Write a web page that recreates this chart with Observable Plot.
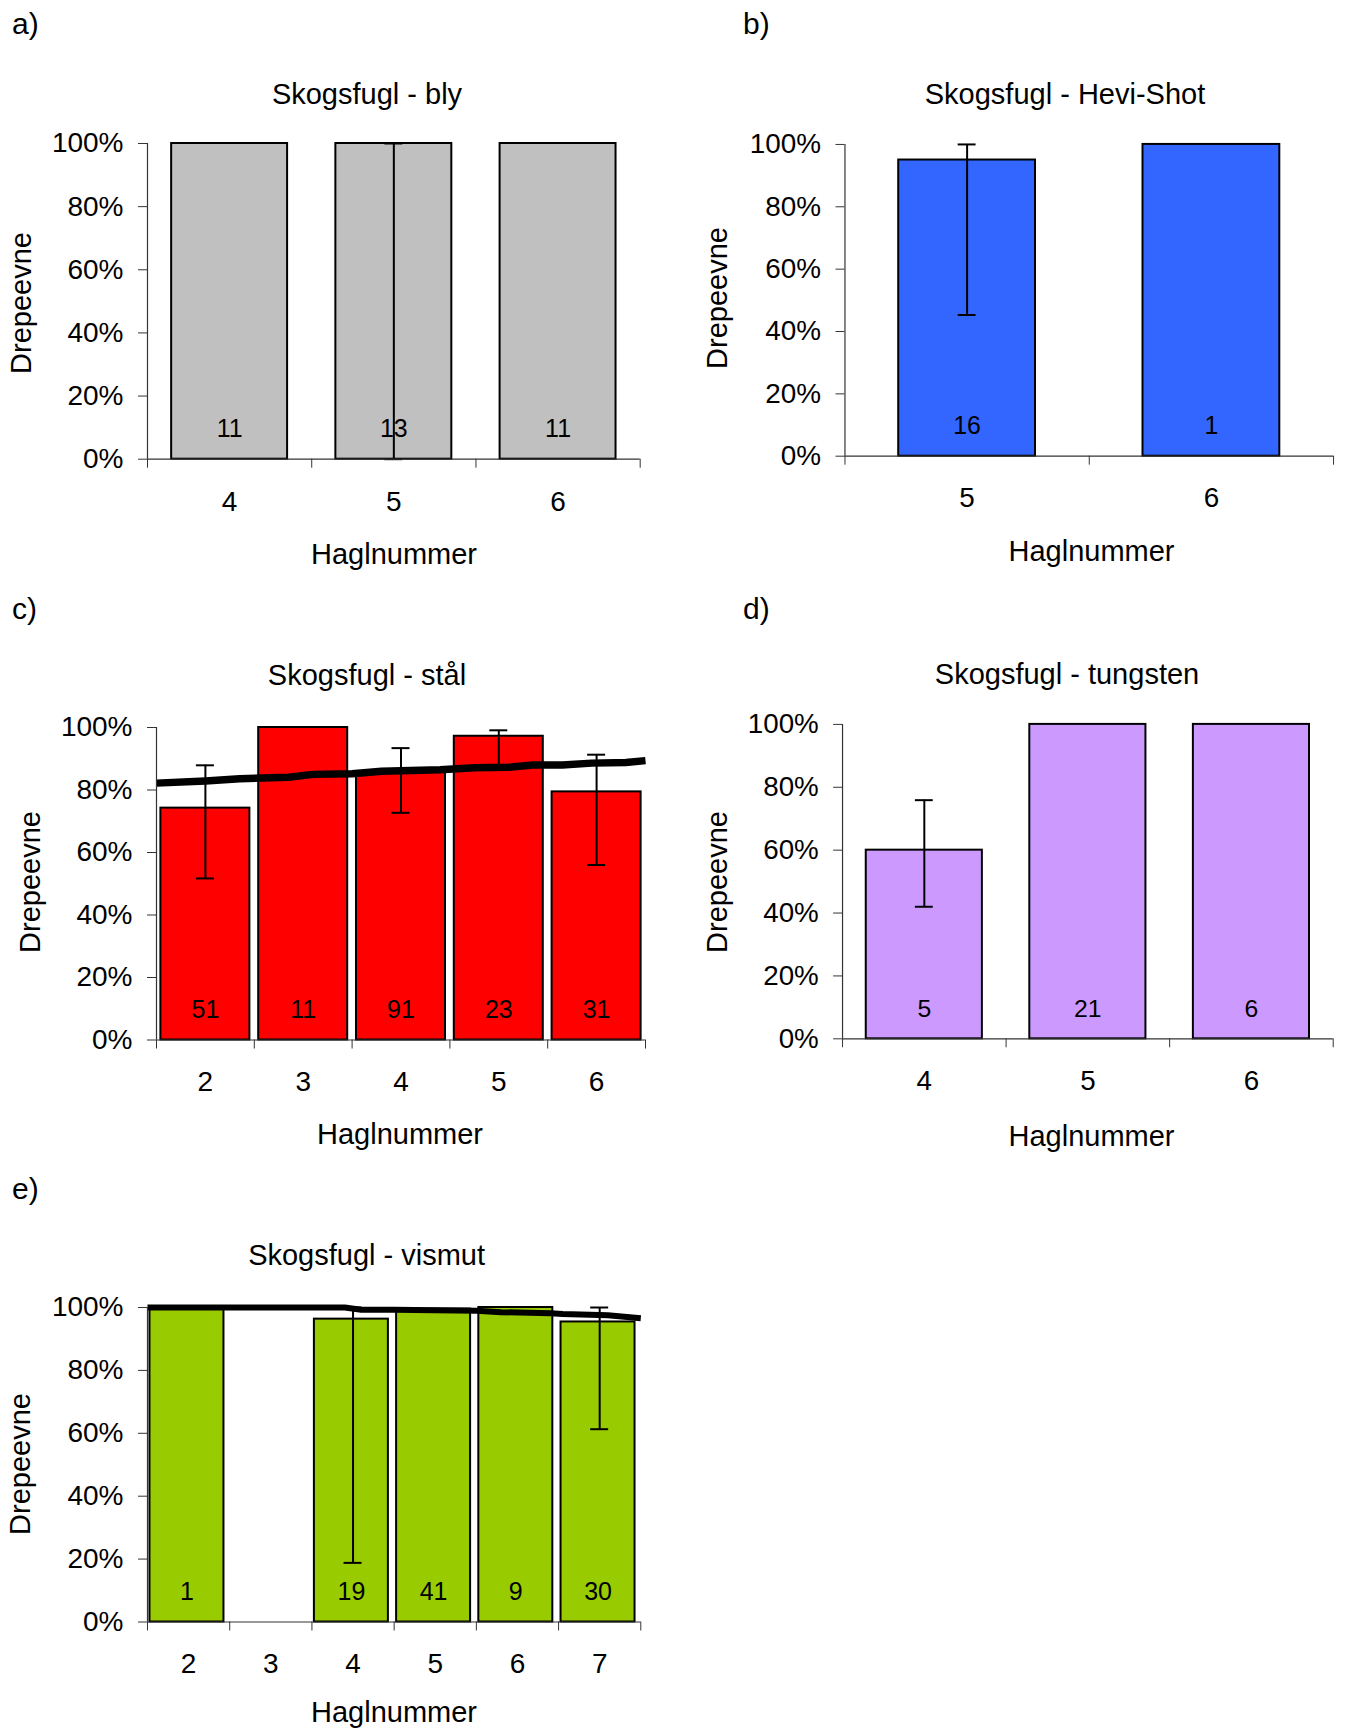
<!DOCTYPE html>
<html>
<head>
<meta charset="utf-8">
<script src="https://cdn.jsdelivr.net/npm/d3@7"></script>
<script src="https://cdn.jsdelivr.net/npm/@observablehq/plot@0.6"></script>
<style>
  html, body { margin: 0; padding: 0; background: #fff; overflow: hidden; }
  #page { position: relative; width: 1345px; height: 1728px; overflow: hidden; background: #fff;
          font-family: "Liberation Sans", Arial, sans-serif; color: #000; }
  .panel { position: absolute; }
  .t { position: absolute; white-space: nowrap; line-height: 1; transform: translate(-50%, -50%); font-size: 29px; }
  .yt { position: absolute; white-space: nowrap; line-height: 1; transform: translate(-50%, -50%) rotate(-90deg); font-size: 29px; }
  .letter { position: absolute; white-space: nowrap; line-height: 1; transform: translateY(-50%); font-size: 30px; }
</style>
</head>
<body>
<div id="page"></div>
<script>
// ---------- DATA ----------
const yTicks = [0, 0.2, 0.4, 0.6, 0.8, 1.0];
const xTitle = "Haglnummer";
const yTitle = "Drepeevne";

// a) Skogsfugl - bly
const aTitle = "Skogsfugl - bly";
const aShot = [4, 5, 6];
const aKill = [1.0, 1.0, 1.0];
const aN = [11, 13, 11];
const aErrLo = [null, 0.0, null];
const aErrHi = [null, 1.0, null];

// b) Skogsfugl - Hevi-Shot
const bTitle = "Skogsfugl - Hevi-Shot";
const bShot = [5, 6];
const bKill = [0.95, 1.0];
const bN = [16, 1];
const bErrLo = [0.453, null];
const bErrHi = [1.0, null];

// c) Skogsfugl - stål
const cTitle = "Skogsfugl - stål";
const cShot = [2, 3, 4, 5, 6];
const cKill = [0.742, 1.0, 0.856, 0.972, 0.794];
const cN = [51, 11, 91, 23, 31];
const cErrLo = [0.517, null, 0.727, 0.871, 0.56];
const cErrHi = [0.879, null, 0.934, 0.991, 0.913];
const cTrendX = [1.5, 2.0, 2.35, 2.85, 3.1, 3.5, 3.8, 4.4, 4.75, 5.1, 5.35, 5.65, 5.95, 6.3, 6.5];
const cTrendY = [0.822, 0.829, 0.836, 0.841, 0.850, 0.852, 0.860, 0.865, 0.871, 0.873, 0.880, 0.880, 0.886, 0.888, 0.894];

// d) Skogsfugl - tungsten
const dTitle = "Skogsfugl - tungsten";
const dShot = [4, 5, 6];
const dKill = [0.60, 1.0, 1.0];
const dN = [5, 21, 6];
const dErrLo = [0.42, null, null];
const dErrHi = [0.759, null, null];

// e) Skogsfugl - vismut
const eTitle = "Skogsfugl - vismut";
const eShot = [2, 3, 4, 5, 6, 7];
const eKill = [1.0, null, 0.963, 0.995, 1.0, 0.954];
const eN = [1, null, 19, 41, 9, 30];
const eErrLo = [null, null, 0.188, null, null, 0.613];
const eErrHi = [null, null, 1.0, null, null, 1.0];
const eTrendX = [1.5, 3.9, 4.1, 4.5, 5.5, 5.8, 6.4, 6.55, 7.1, 7.5];
const eTrendY = [1.0, 1.0, 0.993, 0.993, 0.99, 0.985, 0.982, 0.979, 0.975, 0.966];

// ---------- LAYOUT (pixel geometry, not data) ----------
const panels = [
  { key: "a)", title: aTitle, shot: aShot, kill: aKill, n: aN, lo: aErrLo, hi: aErrHi, color: "#C0C0C0",
    X0: 147.3, X1: 640, Y100: 143.3, Y0: 459, barFrac: 0.706, shift: 0,
    tPos: [367, 93.5], xtPos: [394, 553.5], ytPos: [20.8, 303], lPos: [12, 24.3] },
  { key: "b)", title: bTitle, shot: bShot, kill: bKill, n: bN, lo: bErrLo, hi: bErrHi, color: "#3366FF",
    X0: 845, X1: 1336, Y100: 144, Y0: 457.3, barFrac: 0.56, shift: 0,
    tPos: [1065, 93.5], xtPos: [1091.5, 551], ytPos: [716.8, 298], lPos: [743, 24.3] },
  { key: "c)", title: cTitle, shot: cShot, kill: cKill, n: cN, lo: cErrLo, hi: cErrHi, color: "#FF0000",
    trendX: cTrendX, trendY: cTrendY, lineW: 7.5,
    X0: 156, X1: 645, Y100: 726.5, Y0: 1039, barFrac: 0.91, shift: 0,
    tPos: [367, 675], xtPos: [400, 1133.5], ytPos: [29.5, 882], lPos: [12, 608.5] },
  { key: "d)", title: dTitle, shot: dShot, kill: dKill, n: dN, lo: dErrLo, hi: dErrHi, color: "#CC99FF",
    X0: 843.4, X1: 1338.4, Y100: 724.3, Y0: 1041.5, barFrac: 0.71, shift: 0,
    tPos: [1067, 674], xtPos: [1091.5, 1135.5], ytPos: [716.8, 882], lPos: [743, 608.5] },
  { key: "e)", title: eTitle, shot: eShot, kill: eKill, n: eN, lo: eErrLo, hi: eErrHi, color: "#99CC00",
    trendX: eTrendX, trendY: eTrendY, lineW: 6,
    X0: 146.7, X1: 640, Y100: 1306.5, Y0: 1621, barFrac: 0.90, shift: -0.02,
    tPos: [366.6, 1255], xtPos: [394, 1712], ytPos: [19.5, 1464], lPos: [12, 1189] }
];

const page = document.getElementById("page");
const pct = d3.format(".0%");
const AX = "#333";

function addText(cls, txt, x, y) {
  const el = document.createElement("div");
  el.className = cls;
  el.textContent = txt;
  el.style.left = x + "px";
  el.style.top = y + "px";
  page.appendChild(el);
}

for (const P of panels) {
  const rows = P.shot.map((s, i) => ({ shot: s, kill: P.kill[i], n: P.n[i], lo: P.lo[i], hi: P.hi[i] }));
  const bars = rows.filter(d => d.kill != null);
  const errs = rows.filter(d => d.lo != null);
  const lo = P.shot[0] - 0.5, hi = P.shot[P.shot.length - 1] + 0.5;
  const bounds = d3.range(P.shot.length + 1).map(i => lo + i);
  const mL = 110, mT = 12, mR = 12, mB = 60;
  const W = P.X1 - P.X0, H = P.Y0 - P.Y100;
  const pxPerUnit = W / (hi - lo);
  const half = P.barFrac / 2;
  const cap = 9 / pxPerUnit;

  const marks = [
    Plot.rect(bars, { x1: d => d.shot - half + P.shift, x2: d => d.shot + half + P.shift, y1: 0, y2: "kill",
                      fill: P.color, stroke: "#000", strokeWidth: 2 }),
    Plot.text(bars, { x: d => d.shot + P.shift, y: 0, dy: -30, text: d => String(d.n), fontSize: 25, fill: "#000" })
  ];
  if (P.trendX) {
    const trend = P.trendX.map((x, i) => ({ x, y: P.trendY[i] }));
    marks.push(Plot.line(trend, { x: "x", y: "y", stroke: "#000", strokeWidth: P.lineW, strokeLinecap: "butt" }));
  }
  marks.push(
    Plot.ruleX(errs, { x: "shot", y1: "lo", y2: "hi", stroke: "#000", strokeWidth: 2 }),
    Plot.ruleY(errs, { y: "hi", x1: d => d.shot - cap, x2: d => d.shot + cap, stroke: "#000", strokeWidth: 2 }),
    Plot.ruleY(errs, { y: "lo", x1: d => d.shot - cap, x2: d => d.shot + cap, stroke: "#000", strokeWidth: 2 }),
    Plot.axisY({ ticks: yTicks, tickFormat: pct, tickSize: 9, tickPadding: 15, label: null, stroke: AX, fontSize: 28 }),
    Plot.axisX({ ticks: P.shot, tickSize: 0, tickPadding: 31.5, label: null, tickFormat: d => String(d), fontSize: 28 }),
    Plot.axisX({ ticks: bounds, tickSize: 9, tickFormat: () => "", label: null, stroke: AX }),
    Plot.ruleX([lo], { y1: 0, y2: 1, stroke: AX, strokeWidth: 1.2 }),
    Plot.ruleY([0], { stroke: AX, strokeWidth: 1.2 })
  );

  const svg = Plot.plot({
    width: W + mL + mR, height: H + mT + mB,
    marginLeft: mL, marginTop: mT, marginRight: mR, marginBottom: mB,
    x: { type: "linear", domain: [lo, hi] },
    y: { domain: [0, 1] },
    style: { background: "transparent", overflow: "visible", fontFamily: "'Liberation Sans', Arial, sans-serif",
             fontSize: "28px", color: "#000" },
    marks
  });
  const wrap = document.createElement("div");
  wrap.className = "panel";
  wrap.style.left = (P.X0 - mL) + "px";
  wrap.style.top = (P.Y100 - mT) + "px";
  wrap.appendChild(svg);
  page.appendChild(wrap);

  addText("t", P.title, P.tPos[0], P.tPos[1]);
  addText("t", xTitle, P.xtPos[0], P.xtPos[1]);
  addText("yt", yTitle, P.ytPos[0], P.ytPos[1]);
  addText("letter", P.key, P.lPos[0], P.lPos[1]);
}
</script>
</body>
</html>
